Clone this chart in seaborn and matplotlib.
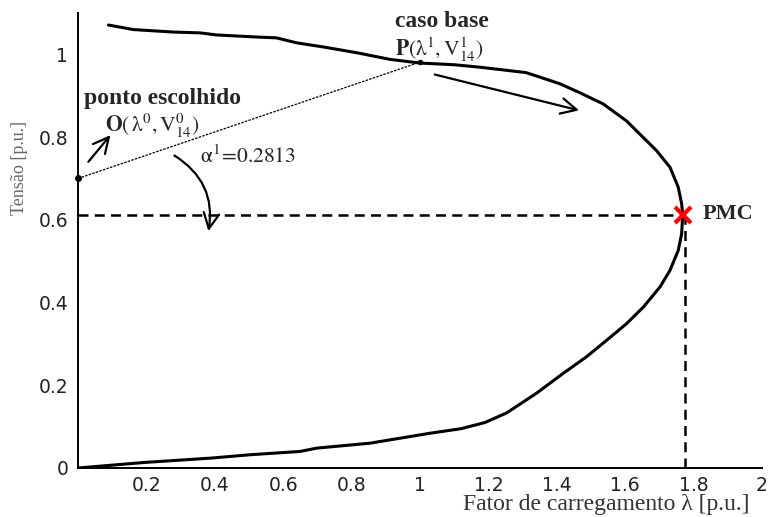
import numpy as np
import pandas as pd
import matplotlib
matplotlib.use("Agg")
import matplotlib.pyplot as plt
from matplotlib.patches import FancyArrowPatch
import seaborn as sns

# PV (nose) curve: loading factor lambda vs. bus-14 voltage, upper branch then lower branch
lam = [0.089, 0.162, 0.279, 0.357, 0.405, 0.522, 0.580, 0.639, 0.717, 0.815, 0.912,
       1.000, 1.100, 1.175, 1.310, 1.409, 1.468, 1.536, 1.604, 1.643, 1.692, 1.731,
       1.755, 1.765, 1.768, 1.765, 1.755, 1.731, 1.702, 1.653, 1.604, 1.546, 1.487,
       1.419, 1.341, 1.253, 1.190, 1.120, 1.029, 0.854, 0.698, 0.649, 0.503, 0.390,
       0.196, 0.0]
volt = [1.071, 1.060, 1.054, 1.052, 1.047, 1.042, 1.040, 1.028, 1.018, 1.004, 0.988,
        0.979, 0.975, 0.969, 0.956, 0.929, 0.907, 0.880, 0.839, 0.807, 0.767, 0.727,
        0.679, 0.639, 0.612, 0.566, 0.526, 0.478, 0.438, 0.389, 0.349, 0.309, 0.269,
        0.229, 0.181, 0.133, 0.110, 0.095, 0.084, 0.060, 0.048, 0.040, 0.032, 0.024,
        0.0135, 0.0]

# Chosen point O, base case P and maximum loading point (PMC)
point_o = (0.0, 0.70)
point_p_lam = 1.0
alpha_1 = 0.2813
pmc = (1.768, 0.612)

x_ticks = [0.2, 0.4, 0.6, 0.8, 1.0, 1.2, 1.4, 1.6, 1.8, 2.0]
y_ticks = [0, 0.2, 0.4, 0.6, 0.8, 1.0]

sns.set_style("white")
plt.rcParams["mathtext.fontset"] = "stix"

fig = plt.figure(figsize=(7.68, 5.17), dpi=100)
ax = fig.add_axes([0.1016, 0.0948, 0.8906, 0.880])

df = pd.DataFrame({"lam": lam, "V": volt})
sns.lineplot(data=df, x="lam", y="V", sort=False, estimator=None,
             color="black", lw=2.2, ax=ax)

# Critical point guide lines
ax.plot([0, pmc[0]], [pmc[1], pmc[1]], color="black", lw=1.8, ls=(0, (4, 2.5)))
ax.plot([pmc[0] + 0.008, pmc[0] + 0.008], [0, pmc[1]], color="black", lw=1.8,
        ls=(0, (4, 2.5)))

# Secant line from O to P, slope alpha
point_p = (point_p_lam, point_o[1] + alpha_1 * point_p_lam)
ax.plot([point_o[0], point_p[0]], [point_o[1], point_p[1]], color="black",
        lw=0.9, ls=(0, (2, 1)))
ax.plot([point_o[0]], [point_o[1]], "o", color="black", ms=4, clip_on=False)
ax.plot([point_p[0]], [point_p[1]], "o", color="black", ms=3)

ax.plot([pmc[0]], [pmc[1]], marker="x", color="red", ms=11, mew=3)


def arrow(p0, p1, rad=0.0, lw=1.6):
    a = FancyArrowPatch(p0, p1, arrowstyle="->,head_length=0.8,head_width=0.4",
                        connectionstyle=f"arc3,rad={rad}", color="black", lw=lw,
                        mutation_scale=14)
    ax.add_patch(a)


arrow((0.025, 0.735), (0.10, 0.81))
arrow((1.035, 0.953), (1.473, 0.863))
arrow((0.275, 0.759), (0.38, 0.566), rad=-0.35)

serif = "Liberation Serif"
ax.text(0.018, 0.893, "ponto escolhido", family=serif, weight="bold", fontsize=17,
        ha="left", va="center")
ax.text(0.079, 0.827, r"$\mathbf{O}(\,\mathrm{\lambda}^0,\mathrm{V}_{14}^0)$",
        fontsize=15.5, ha="left", va="center")
ax.text(0.357, 0.755, r"$\mathrm{\alpha}^1\!=\!0.2813$", fontsize=15.5,
        ha="left", va="center")
ax.text(0.927, 1.08, "caso base", family=serif, weight="bold", fontsize=17,
        ha="left", va="center")
ax.text(0.927, 1.012, r"$\mathbf{P}(\mathrm{\lambda}^1,\mathrm{V}_{14}^1)$",
        fontsize=15.5, ha="left", va="center")
ax.text(1.827, 0.613, "PMC", family=serif, weight="bold", fontsize=16,
        ha="left", va="center")

ax.set_xlim(0, 2)
ax.set_ylim(0, 1.1)
ax.set_xticks(x_ticks)
ax.set_xticklabels([f"{v:g}" for v in x_ticks])
ax.set_yticks(y_ticks)
ax.set_yticklabels([f"{v:g}" for v in y_ticks])
ax.tick_params(axis="x", direction="in", length=6, width=1.2, labelsize=13.5,
               colors="black", pad=6)
ax.tick_params(axis="y", direction="out", length=4, width=1.2, labelsize=13.5,
               colors="black", pad=3)
for lbl in ax.get_xticklabels() + ax.get_yticklabels():
    lbl.set_family("DejaVu Sans")
    lbl.set_color("#222222")

sns.despine(ax=ax, top=True, right=True)
for s in ("left", "bottom"):
    ax.spines[s].set_linewidth(1.4)
    ax.spines[s].set_color("black")

ax.set_xlabel("Fator de carregamento λ [p.u.]", family=serif, fontsize=17,
              color="#333333", va="center")
ax.set_ylabel("Tensão [p.u.]", family=serif, fontsize=13, color="#666666",
              va="center")
ax.xaxis.set_label_coords(0.772, -0.081)
ax.yaxis.set_label_coords(-0.085, 0.66)

fig.savefig("out.png", dpi=100)
